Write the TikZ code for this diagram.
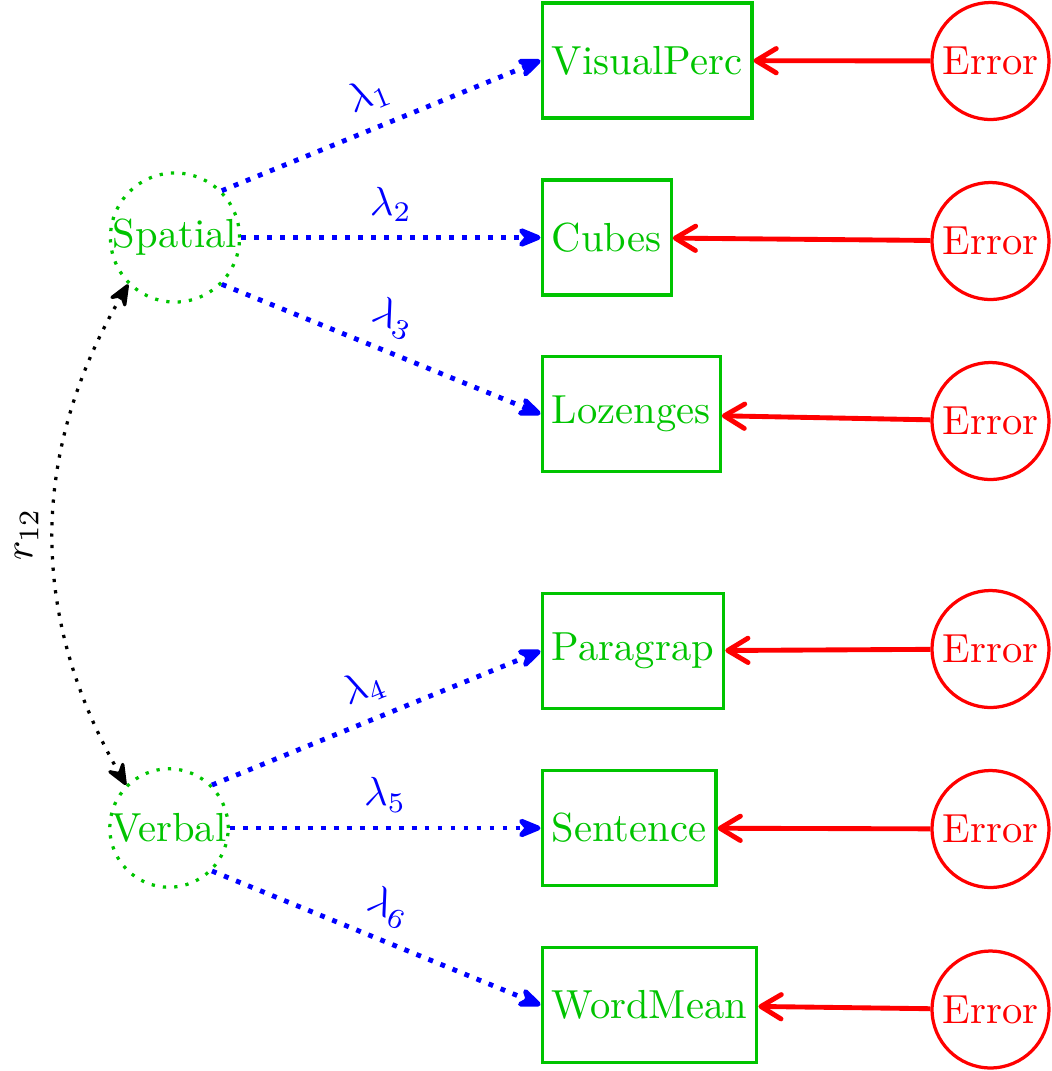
\documentclass[tikz,border=0pt]{standalone}
\usetikzlibrary{arrows.meta}
\definecolor{lvgreen}{RGB}{0,196,0}
\begin{document}
\begin{tikzpicture}[x=0.2464pt,y=-0.2464pt,
  latent/.style={circle, draw=lvgreen, text=lvgreen, thick, dotted, inner sep=0pt},
  obs/.style={rectangle, draw=lvgreen, text=lvgreen, thick, anchor=west, minimum height=28.3pt, inner xsep=2.4pt},
  err/.style={circle, draw=red, text=red, thick, minimum size=28.8pt, inner sep=0pt},
  bigtip/.tip={Stealth[length=7.6pt,width=6.2pt,inset=2.6pt,round]},
  smalltip/.tip={Stealth[length=6.8pt,width=5.6pt,inset=2.4pt,round]},
  load/.style={blue, very thick, dotted, -bigtip},
  lam/.style={midway, sloped, above, text=blue},
  errarr/.style={red, very thick, -{Straight Barb[length=5pt,width=6pt,round]}},
  corr/.style={black, thick, dotted, smalltip-smalltip}]
\useasboundingbox (0,0) rectangle (1052,1071);

\node[latent] (sp) at (175,237.5) {Spatial};
\node[latent] (vb) at (169,828) {Verbal};

\node[obs] (o1) at (540.5,60.5) {VisualPerc};
\node[obs] (o2) at (540.5,237.5) {Cubes};
\node[obs] (o3) at (540.5,414) {Lozenges};
\node[obs] (o4) at (540.5,651) {Paragrap};
\node[obs] (o5) at (540.5,828) {Sentence};
\node[obs] (o6) at (540.5,1005) {WordMean};

\node[err] (e1) at (990.5,61) {Error};
\node[err] (e2) at (990.5,241) {Error};
\node[err] (e3) at (990.5,421) {Error};
\node[err] (e4) at (990.5,649) {Error};
\node[err] (e5) at (990.5,829) {Error};
\node[err] (e6) at (990.5,1009.5) {Error};

\draw[load] (sp.north east) -- node[lam] {$\lambda_1$} (o1.west);
\draw[load] (sp.east) -- node[lam] {$\lambda_2$} (o2.west);
\draw[load] (sp.south east) -- node[lam] {$\lambda_3$} (o3.west);
\draw[load] (vb.north east) -- node[lam] {$\lambda_4$} (o4.west);
\draw[load] (vb.east) -- node[lam] {$\lambda_5$} (o5.west);
\draw[load] (vb.south east) -- node[lam] {$\lambda_6$} (o6.west);

\draw[errarr] (e1) -- (o1);
\draw[errarr] (e2) -- (o2);
\draw[errarr] (e3) -- (o3);
\draw[errarr] (e4) -- (o4);
\draw[errarr] (e5) -- (o5);
\draw[errarr] (e6) -- (o6);

\draw[corr] (sp.south west) to[bend right=30] node[midway, rotate=90, anchor=south] {$r_{12}$} (vb.north west);
\end{tikzpicture}
\end{document}
